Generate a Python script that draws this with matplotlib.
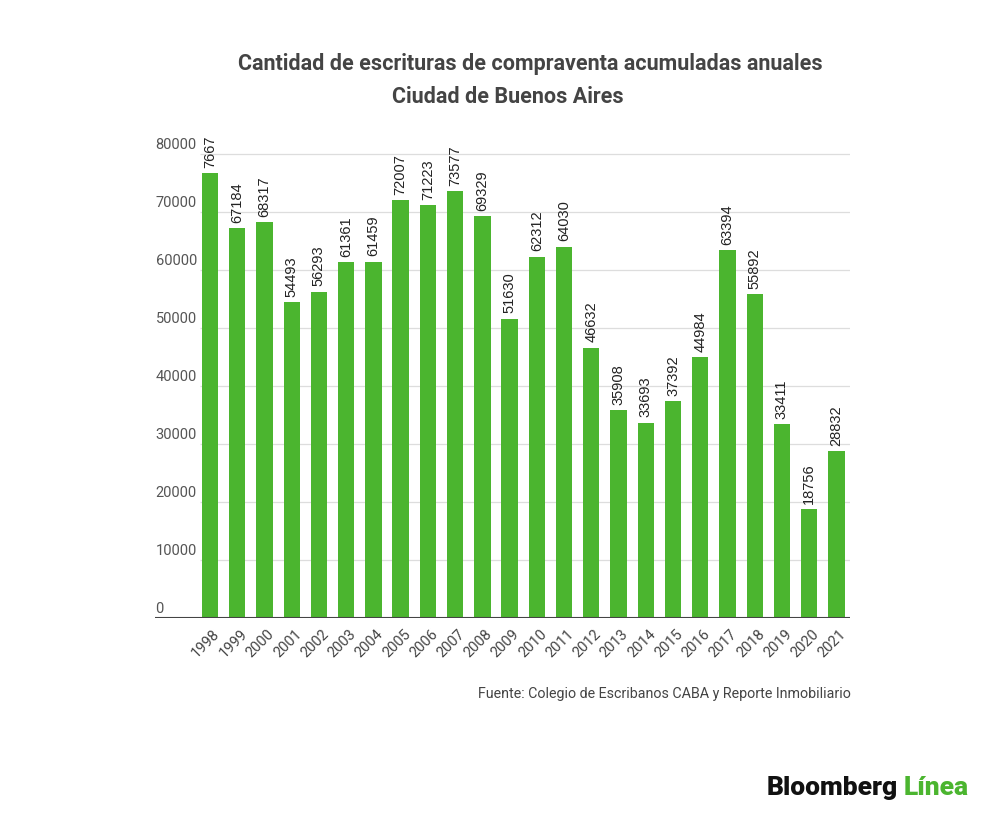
import matplotlib.pyplot as plt

plt.rcParams['font.family'] = ['Roboto', 'DejaVu Sans']

# Data
years = ['1998', '1999', '2000', '2001', '2002', '2003', '2004', '2005', '2006', '2007', '2008', '2009',
         '2010', '2011', '2012', '2013', '2014', '2015', '2016', '2017', '2018', '2019', '2020', '2021']
values = [76667, 67184, 68317, 54493, 56293, 61361, 61459, 72007, 71223, 73577, 69329, 51630,
          62312, 64030, 46632, 35908, 33693, 37392, 44984, 63394, 55892, 33411, 18756, 28832]
# labels as printed on the chart (first one appears clipped)
value_labels = ['7667'] + [str(v) for v in values[1:]]
yticks = [0, 10000, 20000, 30000, 40000, 50000, 60000, 70000, 80000]

bar_color = '#4bb52f'

fig = plt.figure(figsize=(10, 8.19), dpi=100)
ax = fig.add_axes([0.155, 0.2454, 0.695, 0.5958])
x = list(range(len(years)))
ax.bar(x, values, width=0.6, color=bar_color, zorder=2)

ax.set_xlim(-2.02, 23.5)
ax.set_ylim(0, 84138)
for s in ax.spines.values():
    s.set_visible(False)
ax.set_xticks([])
ax.set_yticks([])

# gridlines and y labels
for t in yticks:
    if t > 0:
        ax.hlines(t, -0.37, 23.5, color='#dddddd', linewidth=0.9, zorder=1)
    ax.text(-2.0, t + 1550, str(t), ha='left', va='center', fontsize=10.5, color='#555555')
ax.axhline(0, color='#444444', linewidth=1.5, zorder=3)

# value labels
for xi, v, lab in zip(x, values, value_labels):
    ax.text(xi, v + 900, lab, rotation=90, ha='center', va='bottom', fontsize=10.5,
            color='#222222', family=['Liberation Sans', 'DejaVu Sans'])

# year labels
for xi, yr in zip(x, years):
    ax.text(xi + 0.1, -1500, yr, rotation=45, ha='right', va='top', fontsize=10.5,
            color='#444444', rotation_mode='anchor')

fig.text(0.53, 0.922, 'Cantidad de escrituras de compraventa acumuladas anuales',
         ha='center', va='center', fontsize=15.5, fontweight='bold', color='#444444')
fig.text(0.508, 0.882, 'Ciudad de Buenos Aires',
         ha='center', va='center', fontsize=15.5, fontweight='bold', color='#444444')

fig.text(0.851, 0.153, 'Fuente: Colegio de Escribanos CABA y Reporte Inmobiliario',
         ha='right', va='center', fontsize=10.3, color='#444444')

fig.text(0.767, 0.038, 'Bloomberg', ha='left', va='center', fontsize=19,
         fontweight='heavy', color='#111111')
fig.text(0.904, 0.038, 'Línea', ha='left', va='center', fontsize=19,
         fontweight='heavy', color='#4bb52f')

fig.savefig('out.png', dpi=100)
